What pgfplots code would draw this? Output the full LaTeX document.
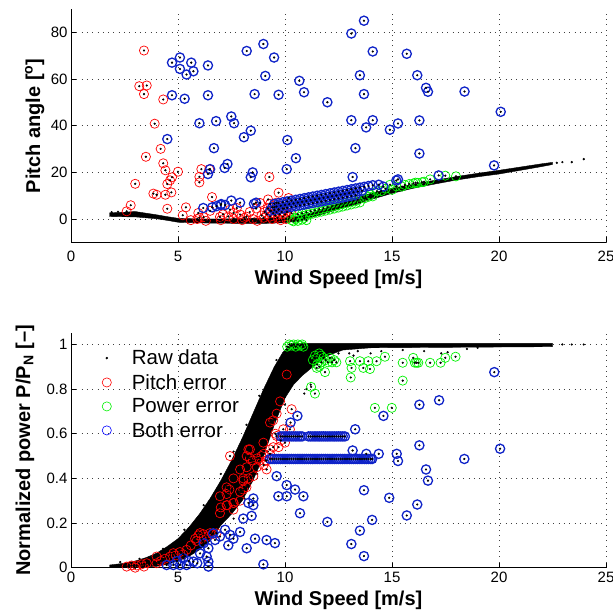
\documentclass[border=0pt]{standalone}
\usepackage{pgfplots}
\pgfplotsset{compat=1.18}
\usepackage{pgfplotstable}
\usepackage{fontspec}
\setmainfont{Liberation Sans}
\definecolor{mred}{RGB}{255,0,0}
\definecolor{mgreen}{RGB}{0,240,0}
\definecolor{mblue}{RGB}{15,35,200}
\definecolor{lblue}{RGB}{0,0,255}

% ---------- top panel: wind speed vs pitch angle ----------
\pgfplotstableread{
x y
1.8 2.6
2.5 2.9
3.0 3.2
3.5 2.5
4.0 1.8
4.5 1.0
5.0 0.3
6.0 0.0
7.0 0.0
8.0 0.2
9.0 0.3
10.0 0.5
10.7 1.2
11.0 2.0
12.0 5.0
13.0 8.0
14.0 11.0
15.0 13.2
16.0 14.9
17.0 16.6
18.0 18.2
19.0 19.6
20.0 20.9
21.0 22.3
22.0 23.7
22.5 24.3
22.5 23.4
22.0 22.5
21.0 20.9
20.0 19.3
19.0 18.1
18.0 16.7
17.0 15.0
16.0 13.2
15.0 11.0
14.0 8.3
13.0 5.5
12.0 2.8
11.0 0.0
10.5 -1.0
10.0 -1.6
9.0 -1.9
8.0 -1.9
7.0 -1.8
6.0 -1.7
5.0 -1.4
4.5 -0.6
4.0 0.1
3.0 0.9
2.0 1.0
1.8 1.1
}\topband

\pgfplotstableread{
x y
22.96 24.4
23.4 24.4
23.96 25.7
22.7 24.1
1.9 2.9
2.2 3.1
}\topraw

\pgfplotstableread{
x y
3.41 72.3
3.19 57
3.54 57.3
3.41 53.6
4.31 51.3
3.91 40.9
4.19 30.1
3.5 26.7
4.31 23.9
4.41 20.9
5.0 20.3
4.72 17.9
4.63 16.6
4.5 15.0
4.69 11.4
4.41 10.4
3.85 10.9
4.0 10.4
3.0 15.1
2.79 5.9
2.6 3.3
4.5 4.4
5.37 5.0
5.22 1.6
6.09 21.4
6.0 18.1
6.0 15.7
6.46 21.3
6.59 9.4
9.27 18.0
9.7 11.3
9.21 8.4
10.17 9.0
5.95 2.6
6.0 0.5
5.9 0
6.2 0.8
6.5 3.5
6.96 0.9
7.1 2.0
7.35 1.1
7.43 4.0
7.6 2.6
7.75 4.7
7.9 1.9
8.1 0.5
8.2 1.0
8.35 3.0
8.5 0.0
8.65 4.5
8.83 6.9
8.9 1.5
9.0 0.5
9.05 3.0
9.15 2.0
9.2 4.5
9.3 1.0
9.35 3.5
9.4 0.0
9.45 2.5
9.5 5.0
9.55 1.5
9.6 3.0
9.65 0.5
9.7 4.0
9.75 2.0
9.8 -0.5
9.85 3.0
9.9 1.0
9.95 4.5
10.0 2.0
10.05 0.0
10.1 3.0
10.2 1.0
10.3 2.5
7.0 -0.5
7.6 0.0
6.3 -0.8
8.0 -0.5
5.6 -0.5
8.7 -0.8
9.3 6.5
9.6 7.0
}\toppitch

\pgfplotstableread{
x y
10.3 -0.5
10.4 -1.0
10.5 0.0
10.6 -0.8
10.8 -0.3
10.9 0.5
11.0 -0.5
10.5 0.5
10.7 0.94
10.9 1.38
11.1 1.82
11.3 2.26
11.5 2.7
11.7 3.14
11.9 3.58
12.1 4.02
12.3 4.46
12.5 4.9
12.7 5.34
12.9 5.78
13.1 6.22
13.3 6.66
13.5 7.1
10.6 2.0
10.8 2.44
11.0 2.88
11.2 3.32
11.4 3.76
11.6 4.2
11.8 4.64
12.0 5.08
12.2 5.52
12.4 5.96
12.6 6.4
12.8 6.84
13.0 7.28
13.2 7.72
13.4 8.16
13.7 8.8
13.9 9.5
14.0 10.4
14.1 9.7
14.3 11.9
14.5 12.0
14.7 13.0
14.91 14.7
15.0 12.5
15.2 14.0
15.47 13.9
15.6 14.6
15.8 15.0
16.0 15.3
16.1 15.6
16.2 15.5
16.4 15.8
16.5 16.0
16.78 17.0
17.49 18.6
17.99 18.3
}\toppower

\pgfplotstableread{
x y
5.09 69.3
4.72 67.1
5.62 67.1
5.09 64.4
5.4 62
5.72 63.4
6.4 65.9
4.72 53.1
5.31 51.6
6.4 53.1
6.0 41.1
6.78 42
4.5 34.3
6.68 30.4
6.5 21.4
6.4 19.3
6.18 4.7
6.6 5.0
6.8 5.5
7.0 6.0
7.2 6.0
8.21 72.1
8.99 75.1
9.49 69.3
9.08 61.4
8.58 53.6
9.7 53.3
10.67 59.3
10.89 54.4
11.98 50.1
13.1 79.6
13.69 85.1
14.1 71.9
13.5 61.7
13.69 53.6
7.49 44
7.62 41.1
8.4 37.9
8.08 35.1
10.11 33.9
10.51 26.1
10.08 21.4
13.1 42.4
14.1 42.4
13.79 39.3
13.29 30.4
13.16 18
7.31 23.6
7.18 21.9
8.49 20
8.4 17.9
7.49 7.9
7.9 7.0
8.55 6.5
8.65 7.0
7.02 6.4
15.69 70.9
16.18 61.7
16.59 56.3
16.68 54.6
18.39 54.7
20.08 46
15.28 41
14.9 38.3
16.28 42.3
16.28 28.1
19.77 23
17.18 18.7
15.28 17
15.2 16.5
14.38 14.7
14.6 13.9
9.5 6.5
9.7 6.85
9.9 7.2
10.1 7.54
10.3 7.89
10.5 8.24
10.7 8.59
10.9 8.94
11.1 9.28
11.3 9.63
11.5 9.98
11.7 10.33
11.9 10.68
12.1 11.02
12.3 11.37
12.5 11.72
12.7 12.07
12.9 12.42
13.1 12.76
13.3 13.11
13.5 13.46
13.7 13.81
13.9 14.16
14.1 14.5
9.3 3.5
9.5 3.83
9.7 4.17
9.9 4.5
10.1 4.84
10.3 5.17
10.5 5.5
10.7 5.84
10.9 6.17
11.1 6.51
11.3 6.84
11.5 7.17
11.7 7.51
11.9 7.84
12.1 8.18
12.3 8.51
12.5 8.84
12.7 9.18
12.9 9.51
13.1 9.85
13.3 10.18
9.4 5.0
9.6 5.34
9.8 5.68
10.0 6.02
10.2 6.36
10.4 6.7
10.6 7.04
10.8 7.38
11.0 7.72
11.2 8.06
11.4 8.4
11.6 8.74
11.8 9.08
12.0 9.42
12.2 9.76
12.4 10.1
12.6 10.44
12.8 10.78
13.0 11.12
13.2 11.46
13.4 11.8
13.6 12.14
}\topboth

% ---------- bottom panel: wind speed vs normalized power ----------
\pgfplotstableread{
x y
1.8 0.012
2.5 0.02
3.0 0.03
3.5 0.045
4.0 0.065
4.5 0.095
5.0 0.13
5.5 0.18
6.0 0.24
6.5 0.31
7.0 0.39
7.5 0.48
8.0 0.58
8.5 0.69
9.0 0.8
9.5 0.9
9.9 0.965
10.3 1.005
22.5 1.005
22.5 0.99
14.0 0.985
12.7 0.975
12.0 0.95
11.3 0.9
10.8 0.86
10.4 0.82
10.0 0.76
9.5 0.64
9.0 0.5
8.5 0.39
8.0 0.3
7.5 0.24
7.0 0.19
6.5 0.12
6.0 0.08
5.5 0.05
5.0 0.03
4.5 0.015
4.0 0.006
3.0 0.002
1.8 0.0
}\botband

\pgfplotstableread{
x y
22.96 1.0
23.4 1.0
23.96 1.0
12.5 0.96
13.2 0.95
13.4 0.97
14.0 0.96
14.5 0.97
15.5 0.975
16.5 0.97
17.3 0.96
17.6 0.965
18.5 0.98
19.0 0.985
11.0 0.8
11.2 0.82
10.9 0.78
2.3 0.025
3.2 0.04
4.3 0.085
5.3 0.17
6.2 0.28
7.0 0.42
7.6 0.52
8.2 0.64
8.8 0.77
9.6 0.93
10.0 0.73
9.7 0.6
9.2 0.52
8.7 0.42
8.1 0.31
7.6 0.22
6.8 0.15
6.2 0.09
11.7 0.93
12.2 0.94
13.0 0.96
}\botraw

\pgfplotstableread{
x y
2.6 0.005
2.83 0.01
3.07 0.01
3.41 0.005
3.54 0.02
4.0 0.02
4.0 0.05
4.39 0.04
4.63 0.05
4.78 0.065
5.09 0.07
5.4 0.08
5.87 0.12
6.03 0.155
6.18 0.15
6.34 0.14
6.5 0.155
5.95 0.145
6.8 0.154
6.96 0.244
7.27 0.28
7.4 0.35
7.59 0.29
7.9 0.3
8.05 0.35
8.29 0.4
8.05 0.4
8.29 0.53
8.36 0.49
8.5 0.48
8.7 0.49
8.9 0.5
9.1 0.48
8.99 0.56
9.3 0.51
9.45 0.54
9.3 0.65
9.45 0.66
9.61 0.69
9.77 0.745
10.08 0.865
9.61 0.59
9.92 0.62
10.31 0.71
10.23 0.62
8.68 0.45
8.2 0.36
7.9 0.34
7.59 0.26
9.7 0.54
9.3 0.53
9.0 0.51
8.83 0.48
9.14 0.48
8.21 0.5
8.36 0.53
7.9 0.44
7.59 0.4
8.05 0.39
7.27 0.36
8.52 0.41
9.0 0.46
9.14 0.44
7.43 0.5
8.21 0.45
7.0 0.27
7.3 0.28
7.6 0.29
6.96 0.32
7.27 0.33
5.6 0.1
5.8 0.13
6.1 0.13
6.6 0.15
3.0 0.0
3.3 0.015
4.2 0.03
4.9 0.055
5.25 0.06
9.55 0.6
9.8 0.57
10.0 0.56
}\botpitch

\pgfplotstableread{
x y
10.1 0.99
10.2 1.0
10.3 0.995
10.4 1.0
10.5 0.99
10.6 1.0
10.7 0.995
10.8 1.0
10.86 0.99
11.3 0.93
11.4 0.95
11.5 0.94
11.6 0.96
11.7 0.95
11.8 0.94
11.9 0.93
12.0 0.92
12.1 0.94
12.2 0.92
12.3 0.93
12.4 0.92
11.5 0.91
11.7 0.92
11.48 0.895
11.87 0.876
11.6 0.9
13.04 0.925
13.11 0.895
13.5 0.925
13.66 0.895
13.89 0.925
13.97 0.89
14.28 0.925
14.67 0.945
13.07 0.852
15.5 0.918
15.5 0.838
15.99 0.94
16.07 0.918
16.15 0.918
16.23 0.918
16.78 0.918
17.27 0.918
17.49 0.94
17.97 0.945
14.2 0.716
14.99 0.716
11.22 0.81
11.4 0.78
}\botpower

\pgfplotstableread{
x y
8.99 0.015
8.21 0.087
8.6 0.13
9.14 0.124
9.53 0.11
7.9 0.16
7.59 0.13
7.35 0.1
7.43 0.147
7.2 0.17
6.96 0.14
6.73 0.124
6.65 0.154
6.34 0.05
6.42 0.087
6.42 0.027
6.42 0.005
6.03 0.064
5.72 0.027
5.4 0.012
5.25 0.042
5.09 0.012
4.78 0.012
4.47 0.012
8.05 0.22
8.44 0.232
8.29 0.29
8.52 0.28
8.52 0.31
9.69 0.32
10.08 0.32
9.61 0.41
10.08 0.37
10.47 0.35
10.86 0.32
10.7 0.244
10.26 0.65
10.58 0.68
11.98 0.205
13.28 0.62
13.16 0.525
13.8 0.51
14.38 0.51
14.07 0.487
14.6 0.68
15.22 0.51
15.28 0.478
16.28 0.73
16.28 0.548
17.2 0.75
18.38 0.487
19.78 0.876
20.05 0.533
16.59 0.44
16.68 0.39
13.69 0.347
14.87 0.313
13.5 0.166
13.1 0.106
13.69 0.052
14.07 0.214
16.18 0.283
15.69 0.234
12.8 0.588
6.2 0.11
5.5 0.03
4.95 0.03
5.9 0.02
9.8 0.588
9.9 0.588
10.0 0.588
10.1 0.588
10.2 0.588
10.3 0.588
10.4 0.588
10.5 0.588
10.6 0.588
10.7 0.588
10.8 0.588
11.1 0.588
11.2 0.588
11.3 0.588
11.4 0.588
11.5 0.588
11.6 0.588
11.7 0.588
11.8 0.588
11.9 0.588
12.0 0.588
12.1 0.588
12.2 0.588
12.3 0.588
12.4 0.588
12.5 0.588
12.6 0.588
12.7 0.588
9.3 0.487
9.4 0.487
9.5 0.487
9.6 0.487
9.7 0.487
9.8 0.487
9.9 0.487
10.0 0.487
10.1 0.487
10.2 0.487
10.3 0.487
10.4 0.487
10.5 0.487
10.6 0.487
10.7 0.487
10.8 0.487
10.9 0.487
11.0 0.487
11.1 0.487
11.2 0.487
11.3 0.487
11.4 0.487
11.5 0.487
11.6 0.487
11.7 0.487
11.8 0.487
11.9 0.487
12.0 0.487
12.1 0.487
12.2 0.487
12.3 0.487
12.4 0.487
12.5 0.487
12.6 0.487
12.7 0.487
12.8 0.487
12.9 0.487
13.0 0.487
13.1 0.487
13.2 0.487
13.3 0.487
13.4 0.487
13.5 0.487
13.6 0.487
13.7 0.487
13.8 0.487
13.9 0.487
14.0 0.487
}\botboth

\pgfplotsset{
  mystyle/.style={
    scale only axis,
    width=535pt,
    xmin=0, xmax=25,
    xtick={0,5,10,15,20,25},
    axis lines*=left,
    tick align=inside,
    major tick length=5pt,
    axis line style={black, line width=0.6pt},
    tick style={black, line width=0.6pt},
    grid=major,
    major grid style={black!75, line width=0.6pt, dash pattern=on 0.7pt off 4.6pt},
    /pgf/number format/assume math mode=true,
    ticklabel style={font=\fontsize{15}{17}\selectfont},
    label style={font=\fontsize{20}{22}\selectfont\bfseries},
    xlabel={Wind Speed [m/s]},
    clip=false,
  },
  rawband/.style={fill=black, draw=black, line width=0.4pt, forget plot},
  rawdot/.style={only marks, mark=*, mark size=0.9pt, black, forget plot},
  redc/.style={only marks, mark=o, mark size=4.6pt, mred, line width=0.7pt, forget plot},
  greenc/.style={only marks, mark=o, mark size=4.6pt, mgreen, line width=0.7pt, forget plot},
  bluec/.style={only marks, mark=o, mark size=4.6pt, mblue, line width=1.3pt, forget plot},
}

\begin{document}
\begin{tikzpicture}[x=1pt,y=1pt]
\path[use as bounding box] (0,0) rectangle (613,612);

\begin{axis}[mystyle,
  at={(71pt,369.7pt)}, anchor=south west,
  height=233pt,
  ymin=-10, ymax=90,
  ytick={0,20,40,60,80},
  xticklabel style={yshift=-5pt},
  ylabel={Pitch angle [\textsuperscript{o}]},
  ylabel style={at={(axis description cs:-0.068,0.5)}, anchor=center},
  xlabel style={at={(axis description cs:0.5,-0.16)}, anchor=center},
]
\addplot[rawband] table {\topband} -- cycle;
\addplot[rawdot] table {\topraw};
\addplot[redc] table {\toppitch};
\addplot[greenc] table {\toppower};
\addplot[bluec] table {\topboth};
\addplot[rawdot] table {\toppitch};
\addplot[rawdot] table {\toppower};
\addplot[rawdot] table {\topboth};
\end{axis}

\begin{axis}[mystyle,
  at={(71pt,44.3pt)}, anchor=south west,
  height=234.4pt,
  ymin=0, ymax=1.05,
  ytick={0,0.2,0.4,0.6,0.8,1},
  yticklabels={0,0.2,0.4,0.6,0.8,1},
  xticklabel style={yshift=-1pt},
  ylabel={Normalized power P/P\textsubscript{N} [--]},
  ylabel style={at={(axis description cs:-0.086,0.5)}, anchor=center},
  xlabel style={at={(axis description cs:0.5,-0.138)}, anchor=center},
  legend style={at={(axis description cs:0.046,0.947)}, anchor=north west,
    draw=none, fill=none, font=\fontsize{20.5}{22}\selectfont,
    row sep=4pt, legend cell align=left},
  legend image code/.code={%
    \path[draw=none, fill=none] (0pt,0pt) -- (31pt,0pt);
    \draw[#1] plot coordinates {(8pt,0pt)};},
]
\addlegendimage{only marks, mark=*, mark size=1pt, black}
\addlegendentry{Raw data}
\addlegendimage{only marks, mark=o, mark size=4.6pt, mred, line width=0.6pt}
\addlegendentry{Pitch error}
\addlegendimage{only marks, mark=o, mark size=4.6pt, mgreen, line width=0.6pt}
\addlegendentry{Power error}
\addlegendimage{only marks, mark=o, mark size=4.6pt, lblue, line width=0.6pt}
\addlegendentry{Both error}
\addplot[rawband] table {\botband} -- cycle;
\addplot[rawdot] table {\botraw};
\addplot[redc] table {\botpitch};
\addplot[greenc] table {\botpower};
\addplot[bluec] table {\botboth};
\addplot[rawdot] table {\botpitch};
\addplot[rawdot] table {\botpower};
\addplot[rawdot] table {\botboth};
\end{axis}
\end{tikzpicture}
\end{document}
